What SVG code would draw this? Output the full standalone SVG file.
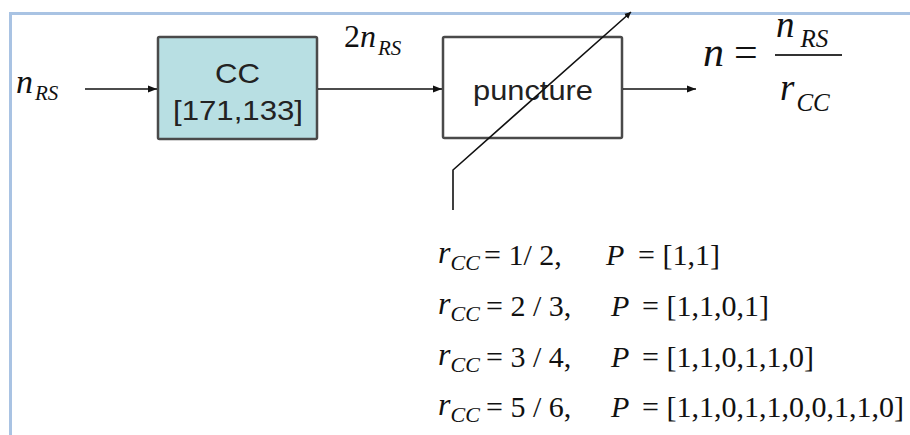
<svg xmlns="http://www.w3.org/2000/svg" width="910" height="435" viewBox="0 0 910 435">
<style>
.box{stroke:#4a4a4a;stroke-width:2.5}
.lbl{font-family:"Liberation Sans",Arial,sans-serif;fill:#222}
.m{font-family:"Liberation Serif","Times New Roman",serif;font-style:italic;fill:#111}
.r{font-family:"Liberation Serif","Times New Roman",serif;fill:#111}
.conn{stroke:#111;stroke-width:1.6;fill:none}
</style>
<defs>
<marker id="ah" viewBox="0 0 10 10" refX="10" refY="5" markerWidth="6.5" markerHeight="6.5" markerUnits="userSpaceOnUse" orient="auto">
<path d="M0,0 L10,5 L0,10 z" fill="#111"/>
</marker>
<marker id="ahs" viewBox="0 0 10 10" refX="10" refY="5" markerWidth="9" markerHeight="9" orient="auto" markerUnits="userSpaceOnUse">
<path d="M0,1 L10,5 L0,9 z" fill="#111"/>
</marker>
</defs>
<rect width="910" height="435" fill="#fff"/>
<path d="M10.5,435 V13.5 H910" fill="none" stroke="#a9c3e3" stroke-width="3"/>

<g id="input-label">
<text class="m" x="16" y="93" font-size="34">n<tspan font-size="21" dy="7" dx="2">RS</tspan></text>
</g>

<g id="cc">
<rect class="box" x="158" y="37" width="159" height="102" fill="#b8dfe3" rx="1.5"/>
<text class="lbl" x="215" y="83" font-size="28" textLength="45" lengthAdjust="spacingAndGlyphs">CC</text>
<text class="lbl" x="173" y="120" font-size="28" textLength="130" lengthAdjust="spacingAndGlyphs">[171,133]</text>
</g>

<g id="mid-label">
<text class="r" x="344" y="47" font-size="32">2<tspan class="m">n</tspan><tspan class="m" font-size="21" dy="8" dx="2">RS</tspan></text>
</g>

<g id="puncture">
<rect class="box" x="443" y="37" width="179" height="101" fill="#fff" rx="1.5"/>
<text class="lbl" x="473" y="100" font-size="27" textLength="120" lengthAdjust="spacingAndGlyphs">puncture</text>
</g>

<g id="output-formula">
<text class="m" x="703" y="66" font-size="42">n</text>
<text class="r" x="734" y="66" font-size="42">=</text>
<line x1="775" y1="55" x2="842" y2="55" stroke="#333" stroke-width="2.2"/>
<text class="m" x="776" y="37" font-size="37">n<tspan font-size="25" dy="10" dx="6">RS</tspan></text>
<text class="m" x="780" y="100" font-size="37">r<tspan font-size="25" dy="11" dx="2">CC</tspan></text>
</g>

<g id="rates">
<text class="m" x="438" y="263" font-size="32">r<tspan font-size="22" dy="7">CC</tspan></text>
<text class="r" x="484" y="265" font-size="30">= 1/ 2,</text>
<text class="m" x="606" y="265" font-size="30">P</text>
<text class="r" x="638" y="265" font-size="30">= [1,1]</text>

<text class="m" x="438" y="314" font-size="32">r<tspan font-size="22" dy="7">CC</tspan></text>
<text class="r" x="486" y="316" font-size="30">= 2 / 3,</text>
<text class="m" x="611" y="316" font-size="30">P</text>
<text class="r" x="642" y="316" font-size="30">= [1,1,0,1]</text>

<text class="m" x="438" y="365" font-size="32">r<tspan font-size="22" dy="7">CC</tspan></text>
<text class="r" x="486" y="367" font-size="30">= 3 / 4,</text>
<text class="m" x="611" y="367" font-size="30">P</text>
<text class="r" x="642" y="367" font-size="30">= [1,1,0,1,1,0]</text>

<text class="m" x="438" y="415" font-size="32">r<tspan font-size="22" dy="7">CC</tspan></text>
<text class="r" x="486" y="417" font-size="30">= 5 / 6,</text>
<text class="m" x="611" y="417" font-size="30">P</text>
<text class="r" x="642" y="417" font-size="30">= [1,1,0,1,1,0,0,1,1,0]</text>
</g>

<g id="connectors">
<line class="conn" x1="85" y1="89" x2="157" y2="89" marker-end="url(#ahs)"/>
<line class="conn" x1="318" y1="89" x2="442" y2="89" marker-end="url(#ahs)"/>
<line class="conn" x1="623" y1="89" x2="696" y2="89" marker-end="url(#ahs)"/>
<polyline class="conn" points="453,210 453,170 631,12" marker-end="url(#ah)"/>
</g>
</svg>
